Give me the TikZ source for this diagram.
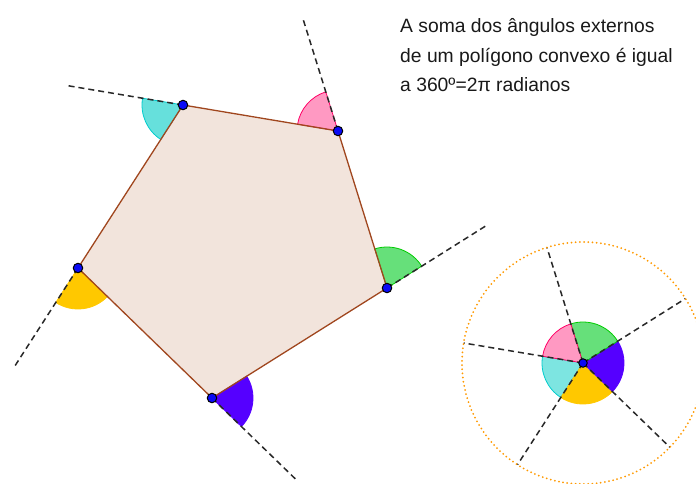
\documentclass[tikz,border=0pt]{standalone}
\usepackage{fontspec}
\setmainfont{Liberation Sans}
\usetikzlibrary{calc}
\definecolor{polyfill}{RGB}{242,228,220}
\definecolor{polyedge}{RGB}{160,70,30}
\definecolor{cyanF}{RGB}{102,224,220}
\definecolor{cyanE}{RGB}{0,204,204}
\definecolor{pinkF}{RGB}{255,153,194}
\definecolor{pinkE}{RGB}{255,0,102}
\definecolor{greenF}{RGB}{102,224,122}
\definecolor{greenE}{RGB}{0,204,0}
\definecolor{violF}{RGB}{85,0,255}
\definecolor{yellF}{RGB}{255,200,0}
\definecolor{dashc}{RGB}{40,40,40}
\definecolor{ptc}{RGB}{10,10,245}
\definecolor{orangeC}{RGB}{255,153,0}
\begin{document}
\begin{tikzpicture}[x=1pt,y=1pt,
  ext/.style={dashc, line width=1.5pt, dash pattern=on 6pt off 4pt},
  side/.style={polyedge, line width=1.3pt},
  pt/.style={circle, fill=ptc, draw=black, line width=1pt, inner sep=0pt, minimum size=9.5pt},
  sec/.style={line width=0.8pt},
  txt/.style={anchor=base west, inner sep=0pt, text=black!90, font=\fontsize{19.3}{23}\selectfont}]
\useasboundingbox (0,0) rectangle (696,-483);
% vertices
\coordinate (A) at (183,-105);
\coordinate (B) at (338,-131);
\coordinate (C) at (387,-288);
\coordinate (D) at (212,-398);
\coordinate (E) at (78,-268);
\coordinate (O) at (583,-363);
% extension ends
\coordinate (Ax) at ($(A)!-120pt!(B)$);
\coordinate (Bx) at ($(B)!-120pt!(C)$);
\coordinate (Cx) at ($(C)!-120pt!(D)$);
\coordinate (Dx) at ($(D)!-120pt!(E)$);
\coordinate (Ex) at ($(E)!-120pt!(A)$);
% polygon fill
\fill[polyfill] (A) -- (E) -- (D) -- (C) -- (B) -- cycle;
% exterior angle sectors
\filldraw[sec, fill=cyanF, draw=cyanE] (A) -- ++(170.48:41) arc[start angle=170.48, end angle=237.21, radius=41pt] -- cycle;
\filldraw[sec, fill=yellF, draw=yellF] (E) -- ++(237.21:41) arc[start angle=237.21, end angle=315.87, radius=41pt] -- cycle;
\filldraw[sec, fill=violF, draw=violF] (D) -- ++(315.87:41) arc[start angle=315.87, end angle=392.16, radius=41pt] -- cycle;
\filldraw[sec, fill=greenF, draw=greenE] (C) -- ++(32.16:41) arc[start angle=32.16, end angle=107.33, radius=41pt] -- cycle;
\filldraw[sec, fill=pinkF, draw=pinkE] (B) -- ++(107.33:41) arc[start angle=107.33, end angle=170.48, radius=41pt] -- cycle;
% sides
\draw[side, line join=round] (A) -- (E) -- (D) -- (C) -- (B) -- cycle;
% extensions
\draw[ext] (A) -- (Ax);
\draw[ext] (B) -- (Bx);
\draw[ext] (C) -- (Cx);
\draw[ext] (D) -- (Dx);
\draw[ext] (E) -- (Ex);
% sum of angles at O
\filldraw[sec, fill=cyanF!85!white, draw=cyanE] (O) -- ++(170.48:41) arc[start angle=170.48, end angle=237.21, radius=41pt] -- cycle;
\filldraw[sec, fill=yellF, draw=yellF] (O) -- ++(237.21:41) arc[start angle=237.21, end angle=315.87, radius=41pt] -- cycle;
\filldraw[sec, fill=violF, draw=violF] (O) -- ++(315.87:41) arc[start angle=315.87, end angle=392.16, radius=41pt] -- cycle;
\filldraw[sec, fill=greenF, draw=greenE] (O) -- ++(32.16:41) arc[start angle=32.16, end angle=107.33, radius=41pt] -- cycle;
\filldraw[sec, fill=pinkF, draw=pinkE] (O) -- ++(107.33:41) arc[start angle=107.33, end angle=170.48, radius=41pt] -- cycle;
\coordinate (Oa) at ($(O)+(170.48:121)$);
\coordinate (Oe) at ($(O)+(237.21:121)$);
\coordinate (Od) at ($(O)+(315.87:121)$);
\coordinate (Oc) at ($(O)+(32.16:121)$);
\coordinate (Ob) at ($(O)+(107.33:121)$);
\draw[ext] (O) -- (Oa);
\draw[ext] (O) -- (Ob);
\draw[ext] (O) -- (Oc);
\draw[ext] (O) -- (Od);
\draw[ext] (O) -- (Oe);
\draw[orangeC, line width=2pt, line cap=round, dash pattern=on 0pt off 4.2pt] (O) circle[radius=121pt];
% points
\node[pt] (pA) at (A) {};
\node[pt] (pB) at (B) {};
\node[pt] (pC) at (C) {};
\node[pt] (pD) at (D) {};
\node[pt] (pE) at (E) {};
\node[pt, minimum size=8.5pt] (pO) at (O) {};
% text
\node[txt] (t1) at (400,-32.5) {A soma dos ângulos externos};
\node[txt] (t2) at (400,-62) {de um polígono convexo é igual};
\node[txt] (t3) at (400,-91) {a 360º=2π radianos};
\end{tikzpicture}
\end{document}
